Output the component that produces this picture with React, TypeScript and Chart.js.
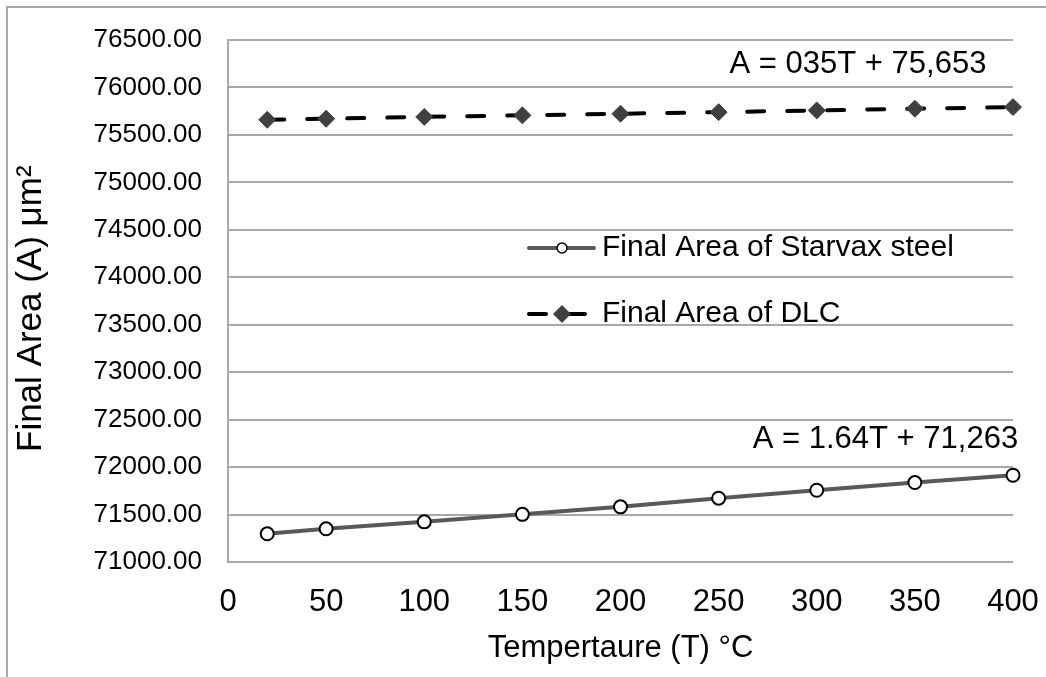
import React, { useEffect, useRef } from "react";
import { Chart, registerables } from "chart.js";

Chart.register(...registerables);

const temperatures = [20, 50, 100, 150, 200, 250, 300, 350, 400];
const starvaxArea = [71297, 71350, 71423, 71502, 71581, 71672, 71756, 71837, 71914];
const dlcArea = [75660, 75670, 75690, 75706, 75723, 75740, 75758, 75776, 75793];
const seriesLabels = ["Final Area of Starvax steel", "Final Area of DLC"];
const trendLabels = ["A = 1.64T + 71,263", "A = 035T + 75,653"];
const xTitle = "Tempertaure (T) °C";
const yTitle = "Final Area (A) μm²";
const xRange = [0, 400, 50];
const yRange = [71000, 76500, 500];

const FONT = '"Liberation Sans", Arial, sans-serif';
const GRID = "#a8a8a8";

const decorPlugin = {
  id: "decor",
  beforeDraw(chart: any) {
    const ctx = chart.ctx;
    ctx.save();
    ctx.strokeStyle = GRID;
    ctx.lineWidth = 2;
    ctx.beginPath();
    ctx.moveTo(7, 677);
    ctx.lineTo(7, 7);
    ctx.lineTo(1046, 7);
    ctx.stroke();
    ctx.restore();
  },
  afterDraw(chart: any) {
    const ctx = chart.ctx;
    const area = chart.chartArea;
    const xs = chart.scales.x;
    const ys = chart.scales.y;
    ctx.save();
    ctx.fillStyle = "#000";
    ctx.textBaseline = "middle";

    // axis titles
    ctx.font = `31px ${FONT}`;
    ctx.textAlign = "center";
    ctx.fillText(xTitle, (area.left + area.right) / 2, 648);

    ctx.save();
    ctx.font = `35px ${FONT}`;
    ctx.translate(31, 452);
    ctx.rotate(-Math.PI / 2);
    ctx.textAlign = "left";
    ctx.fillText(yTitle, 0, 0);
    ctx.restore();

    // trendline equations
    ctx.font = `31px ${FONT}`;
    ctx.textAlign = "center";
    ctx.fillText(trendLabels[0], xs.getPixelForValue(335), ys.getPixelForValue(72293));
    ctx.fillText(trendLabels[1], xs.getPixelForValue(321), ys.getPixelForValue(76240));

    // legend
    ctx.font = `30px ${FONT}`;
    ctx.textAlign = "left";
    const d0 = chart.data.datasets[0];
    const d1 = chart.data.datasets[1];
    // row 1
    let y = 248;
    ctx.strokeStyle = d0.borderColor;
    ctx.lineWidth = 4;
    ctx.lineCap = "round";
    ctx.beginPath();
    ctx.moveTo(529, y);
    ctx.lineTo(594, y);
    ctx.stroke();
    ctx.beginPath();
    ctx.arc(562, y, 5, 0, Math.PI * 2);
    ctx.fillStyle = "#fff";
    ctx.fill();
    ctx.strokeStyle = "#000";
    ctx.lineWidth = 1.5;
    ctx.stroke();
    ctx.fillStyle = "#000";
    ctx.fillText(d0.label, 602, y);
    // row 2
    y = 314;
    ctx.strokeStyle = d1.borderColor;
    ctx.lineWidth = 4;
    ctx.lineCap = "round";
    ctx.beginPath();
    ctx.moveTo(529, y);
    ctx.lineTo(546, y);
    ctx.moveTo(570, y);
    ctx.lineTo(585, y);
    ctx.stroke();
    ctx.beginPath();
    ctx.moveTo(562 - 9, y);
    ctx.lineTo(562, y - 9);
    ctx.lineTo(562 + 9, y);
    ctx.lineTo(562, y + 9);
    ctx.closePath();
    ctx.fillStyle = d1.pointBackgroundColor;
    ctx.fill();
    ctx.fillStyle = "#000";
    ctx.fillText(d1.label, 602, y);
    ctx.restore();
  },
};

export default function App() {
  const ref = useRef<HTMLCanvasElement>(null);
  useEffect(() => {
    if (!ref.current) return;
    Chart.defaults.font.family = FONT;
    Chart.defaults.color = "#000";
    const chart = new Chart(ref.current, {
      type: "line",
      data: {
        datasets: [
          {
            label: seriesLabels[0],
            data: temperatures.map((t, i) => ({ x: t, y: starvaxArea[i] })),
            borderColor: "#595959",
            borderWidth: 4,
            pointStyle: "circle",
            pointRadius: 6.5,
            pointBorderWidth: 2,
            pointBorderColor: "#000",
            pointBackgroundColor: "#fff",
            clip: false,
          },
          {
            label: seriesLabels[1],
            data: temperatures.map((t, i) => ({ x: t, y: dlcArea[i] })),
            borderColor: "#000",
            borderWidth: 4,
            borderDash: [17, 23],
            borderCapStyle: "round",
            pointStyle: "rectRot",
            pointRadius: 8.5,
            pointBorderWidth: 1,
            pointBorderColor: "#404040",
            pointBackgroundColor: "#404040",
            clip: false,
          },
        ],
      },
      options: {
        responsive: false,
        animation: false,
        devicePixelRatio: 1,
        layout: { padding: { left: 0, top: 40, right: 33, bottom: 0 } },
        plugins: {
          legend: { display: false },
          tooltip: { enabled: false },
        },
        scales: {
          x: {
            type: "linear",
            min: xRange[0],
            max: xRange[1],
            grid: { display: false, drawTicks: false },
            border: { display: false },
            ticks: {
              stepSize: xRange[2],
              autoSkip: false,
              maxRotation: 0,
              padding: 22,
              font: { size: 31 },
              color: "#000",
            },
            afterFit: (s: any) => {
              s.height = 115;
              s.paddingLeft = 0;
              s.paddingRight = 0;
            },
          },
          y: {
            type: "linear",
            min: yRange[0],
            max: yRange[1],
            grid: { color: GRID, lineWidth: 2, drawTicks: false },
            border: { display: true, color: GRID, width: 2 },
            ticks: {
              stepSize: yRange[2],
              padding: 26,
              font: { size: 26 },
              color: "#000",
              callback: (v: any) => Number(v).toFixed(2),
            },
            afterFit: (s: any) => {
              s.width = 228;
              s.paddingTop = 0;
              s.paddingBottom = 0;
            },
          },
        },
      },
      plugins: [decorPlugin],
    });
    return () => chart.destroy();
  }, []);
  return (
    <div style={{ position: "fixed", left: 0, top: 0, width: 1046, height: 677, background: "#fff" }}>
      <canvas ref={ref} width={1046} height={677} />
    </div>
  );
}
